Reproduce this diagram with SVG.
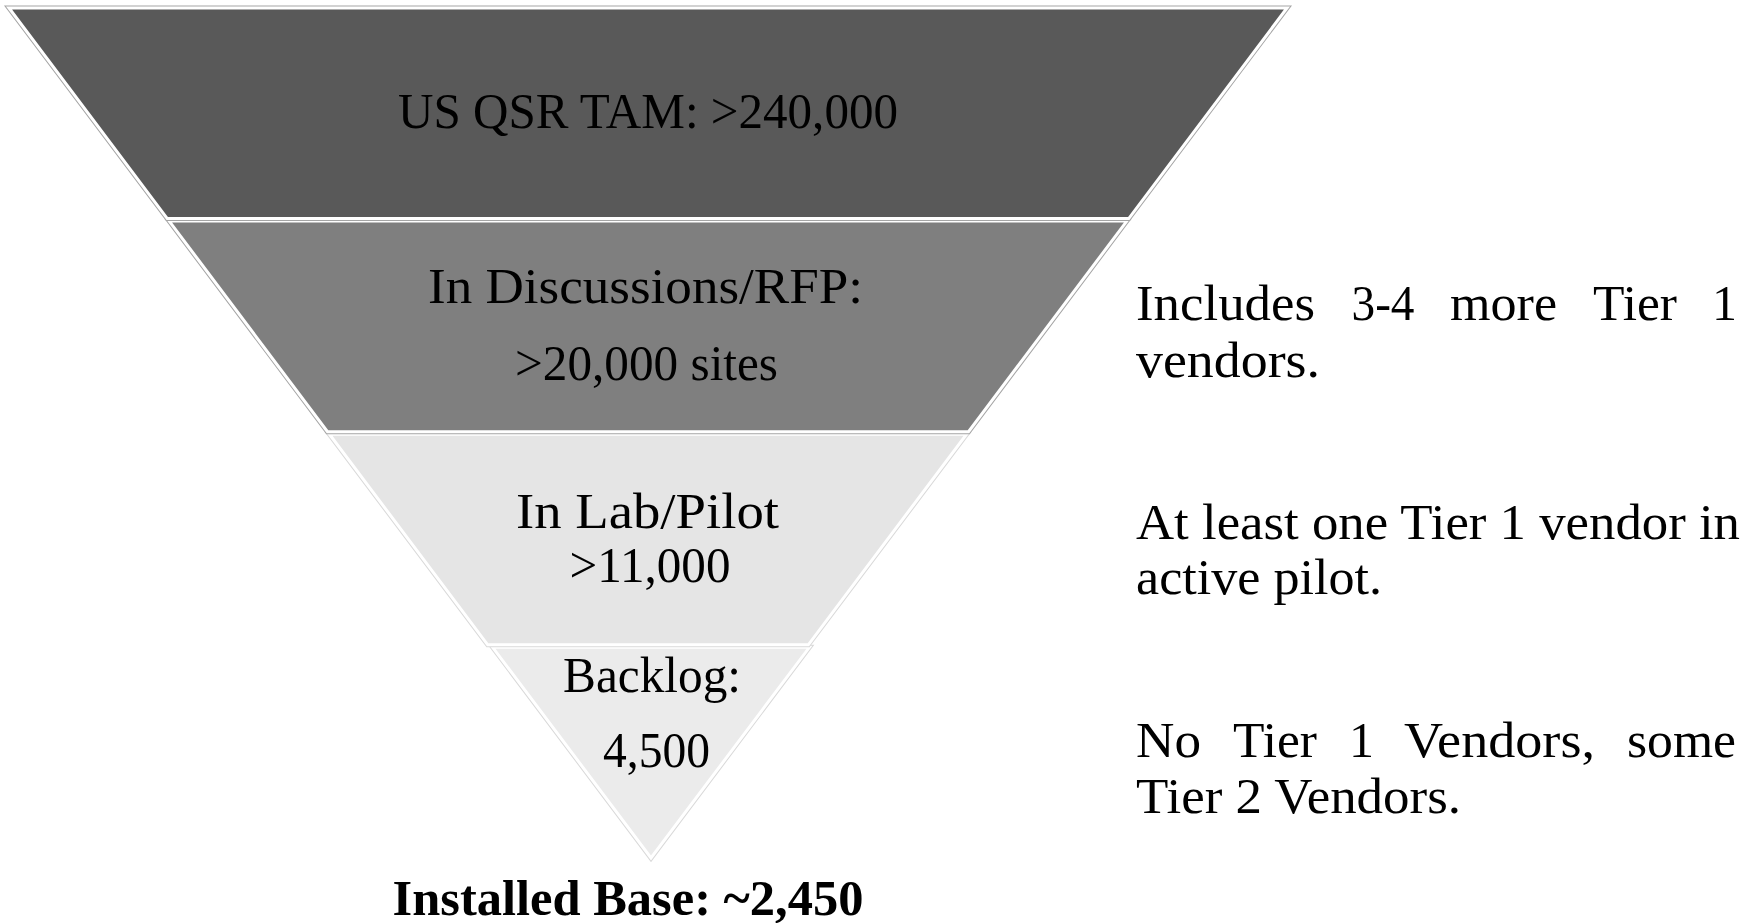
<svg xmlns="http://www.w3.org/2000/svg" width="1760" height="923" viewBox="0 0 1760 923">
<style>
.out{fill:none;stroke-width:5;stroke-linejoin:miter}
.dk{stroke:#a5a5a5}
.lt{stroke:#d9d9d9}
.seg{stroke:#ffffff;stroke-width:3;stroke-linejoin:miter}
.t{font-family:"Liberation Serif","Times New Roman",serif;font-size:50px;fill:#000000}
.c{text-anchor:middle}
.b{font-weight:bold}
</style>
<rect x="0" y="0" width="1760" height="923" fill="#ffffff"/>
<g id="connectors"></g>
<g id="seg4">
<polygon class="out lt" points="492.6,647.3 809.4,647.3 651,858"/>
<polygon class="seg" fill="#ebebeb" points="492.6,647.3 809.4,647.3 651,858"/>
<text class="t c" x="652" y="691.7" textLength="178" lengthAdjust="spacingAndGlyphs">Backlog:</text>
<text class="t c" x="656.5" y="766.7" textLength="107" lengthAdjust="spacingAndGlyphs">4,500</text>
</g>
<g id="seg3">
<polygon class="out lt" points="329.4,434.2 966.6,434.2 808.3,644.8 487.7,644.8"/>
<polygon class="seg" fill="#e5e5e5" points="329.4,434.2 966.6,434.2 808.3,644.8 487.7,644.8"/>
<text class="t c" x="647.5" y="527.7" textLength="263" lengthAdjust="spacingAndGlyphs">In Lab/Pilot</text>
<text class="t c" x="650" y="581.7" textLength="161" lengthAdjust="spacingAndGlyphs">&gt;11,000</text>
</g>
<g id="seg2">
<polygon class="out dk" points="169.2,221.1 1126.8,221.1 968.5,431.7 327.5,431.7"/>
<polygon class="seg" fill="#7f7f7f" points="169.2,221.1 1126.8,221.1 968.5,431.7 327.5,431.7"/>
<text class="t c" x="645.5" y="303" textLength="435" lengthAdjust="spacingAndGlyphs">In Discussions/RFP:</text>
<text class="t c" x="646.5" y="380" textLength="263" lengthAdjust="spacingAndGlyphs">&gt;20,000 sites</text>
</g>
<g id="seg1">
<polygon class="out dk" points="9,8 1287,8 1128.7,218.6 167.3,218.6"/>
<polygon class="seg" fill="#595959" points="9,8 1287,8 1128.7,218.6 167.3,218.6"/>
<text class="t c" x="648" y="128" textLength="500" lengthAdjust="spacingAndGlyphs">US QSR TAM: &gt;240,000</text>
</g>
<g id="installed">
<text class="t c b" x="628" y="915" textLength="471" lengthAdjust="spacingAndGlyphs">Installed Base: ~2,450</text>
</g>
<g id="note1">
<text class="t" x="1136" y="320" textLength="179" lengthAdjust="spacingAndGlyphs">Includes</text>
<text class="t" x="1351.5" y="320" textLength="63" lengthAdjust="spacingAndGlyphs">3-4</text>
<text class="t" x="1450" y="320" textLength="107" lengthAdjust="spacingAndGlyphs">more</text>
<text class="t" x="1593" y="320" textLength="84" lengthAdjust="spacingAndGlyphs">Tier</text>
<text class="t" x="1712" y="320">1</text>
<text class="t" x="1136" y="376.7" textLength="184" lengthAdjust="spacingAndGlyphs">vendors.</text>
</g>
<g id="note2">
<text class="t" x="1136" y="538.5" textLength="604" lengthAdjust="spacingAndGlyphs">At least one Tier 1 vendor in</text>
<text class="t" x="1136" y="594" textLength="246" lengthAdjust="spacingAndGlyphs">active pilot.</text>
</g>
<g id="note3">
<text class="t" x="1136" y="757" textLength="65" lengthAdjust="spacingAndGlyphs">No</text>
<text class="t" x="1233" y="757" textLength="84" lengthAdjust="spacingAndGlyphs">Tier</text>
<text class="t" x="1349" y="757">1</text>
<text class="t" x="1404" y="757" textLength="191" lengthAdjust="spacingAndGlyphs">Vendors,</text>
<text class="t" x="1627" y="757" textLength="109" lengthAdjust="spacingAndGlyphs">some</text>
<text class="t" x="1136" y="813" textLength="325" lengthAdjust="spacingAndGlyphs">Tier 2 Vendors.</text>
</g>
</svg>
